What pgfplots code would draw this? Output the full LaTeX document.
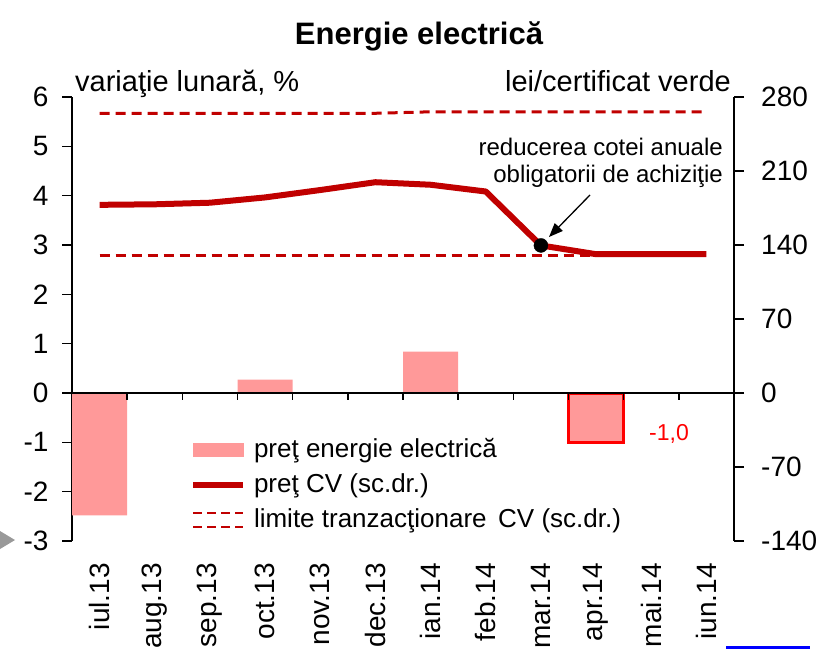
\documentclass[border=0pt]{standalone}
\usepackage{fontspec}
\setmainfont{Liberation Sans}
\usepackage{pgfplots}
\pgfplotsset{compat=1.18}
\usetikzlibrary{arrows.meta}
\definecolor{barpink}{HTML}{FF9999}
\definecolor{cvred}{HTML}{C00000}
\newcommand{\fs}[1]{\fontsize{#1}{#1}\selectfont}
\begin{document}
\begin{tikzpicture}[x=1pt,y=1pt]
\pgfplotsset{
 common/.style={
  scale only axis, width=662pt, height=444pt,
  at={(72pt,108pt)}, anchor=south west,
  xmin=-0.5, xmax=11.5,
  /pgf/number format/assume math mode=true,
  tick align=outside, major tick length=10pt,
  every tick/.style={black, line width=1.6pt},
  clip=false,
 }
}
\begin{axis}[common,
  ymin=-3, ymax=6, ytick={-3,-2,...,6},
  axis y line*=left, axis x line*=bottom,
  x axis line style={draw=none},
  y axis line style={line width=1.6pt, -},
  yticklabel style={font=\fs{28}},
  yticklabel shift=10pt,
  xtick={0,...,11},
  xticklabels={iul.13,aug.13,sep.13,oct.13,nov.13,dec.13,ian.14,feb.14,mar.14,apr.14,mai.14,iun.14},
  xtick style={draw=none},
  xticklabel style={font=\fs{28}, rotate=90, anchor=east, inner sep=0pt},
  xticklabel shift=12pt,
]
\addplot[ybar, bar width=1, bar shift=0pt, fill=barpink, draw=none, forget plot]
 coordinates {(0,-2.48) (1,0) (2,0) (3,0.27) (4,0) (5,0) (6,0.84) (7,0) (8,0) (10,0) (11,0)};
\addplot[ybar, bar width=1, bar shift=0pt, fill=barpink, draw=red, line width=3pt, forget plot]
 coordinates {(9,-1.0)};
% zero line and its ticks
\addplot[black, line width=2pt, forget plot] coordinates {(-0.5,0) (11.5,0)};
\addplot[black, line width=1.6pt, ycomb, no marks, forget plot]
 coordinates {(0.5,-0.14) (1.5,-0.14) (2.5,-0.14) (3.5,-0.14) (4.5,-0.14) (5.5,-0.14) (6.5,-0.14) (7.5,-0.14) (8.5,-0.14) (9.5,-0.14) (10.5,-0.14)};
\end{axis}
\begin{axis}[common,
  ymin=-140, ymax=280, ytick={-140,-70,...,280},
  axis y line*=right, axis x line=none,
  y axis line style={line width=1.6pt, -},
  yticklabel style={font=\fs{28}, anchor=west, inner sep=0pt, xshift=17pt},
  legend style={at={(rel axis cs:0.178,0.236)}, anchor=north west, draw=none, fill=none,
    font=\fs{26}, inner sep=0pt,
    nodes={inner sep=2pt, text height=19pt, text depth=6pt},
    column sep=6pt, row sep=6pt},
  legend cell align=left,
]
\addlegendimage{legend image code/.code={\fill[barpink] (0pt,-5pt) rectangle (50pt,8pt);}}
\addlegendentry{preţ energie electrică}
\addplot[cvred, line width=6pt, line join=round,
  legend image code/.code={\draw[cvred,line width=6pt] (0pt,1pt) -- (50pt,1pt);}]
 coordinates {(0,178) (1,178.5) (2,180) (3,185) (4,192) (5,199.4) (6,197) (7,190.6) (8,139.6) (9,131.3) (10,131.3) (11,131.3)};
\addlegendentry{preţ CV (sc.dr.)}
\addplot[cvred, line width=3pt, dash pattern=on 10pt off 6pt, forget plot]
 coordinates {(0,264.6) (1,264.6) (2,264.6) (3,264.6) (4,264.6) (5,264.6) (6,266) (7,266) (8,266) (9,266) (10,266) (11,266)};
\addplot[cvred, line width=3pt, dash pattern=on 10pt off 6pt,
  legend image code/.code={\draw[cvred,line width=2.5pt, dash pattern=on 9pt off 5pt] (0pt,8pt) -- (50pt,8pt) (0pt,-6pt) -- (50pt,-6pt);}]
 coordinates {(0,130.4) (1,130.4) (2,130.4) (3,130.4) (4,130.4) (5,130.4) (6,130.4) (7,130.4) (8,130.4) (9,130.4) (10,130.4) (11,130.4)};
\addlegendentry{limite tranzacţionare\, CV (sc.dr.)}
\addplot[only marks, mark=*, mark size=7pt, black, forget plot] coordinates {(8,139.6)};
\end{axis}
% annotations
\node[font=\bfseries\fs{31}, anchor=base] at (419,604) {Energie electrică};
\node[font=\fs{29}, anchor=base west, inner sep=0pt] at (75,557) {variaţie lunară, \%};
\node[font=\fs{29}, anchor=base east, inner sep=0pt] at (731,557) {lei/certificat verde};
\node[font=\fs{24}, anchor=base east, inner sep=0pt] at (723,493) {reducerea cotei anuale};
\node[font=\fs{24}, anchor=base east, inner sep=0pt] at (723,466) {obligatorii de achiziţie};
\draw[black, line width=1.3pt, -{Triangle[length=14pt,width=11pt]}] (590,454) -- (549,412);
\node[font=\fs{23}, text=red, anchor=base west, inner sep=0pt] at (649,209) {-1,0};
% page artefacts
\fill[gray!80] (0,118) -- (15,109) -- (0,100) -- cycle;
\draw[blue, line width=3pt] (726,2) -- (810,2);
\pgfresetboundingbox
\useasboundingbox (0,0) rectangle (827,649);
\end{tikzpicture}
\end{document}
